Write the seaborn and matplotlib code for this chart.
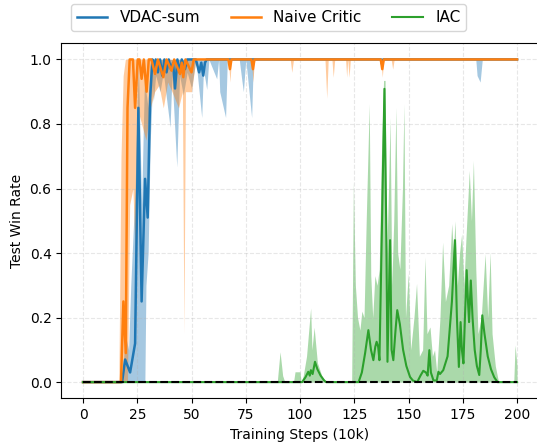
import numpy as np
import matplotlib.pyplot as plt
import seaborn as sns

# VDAC-sum (mean line key points)
vdac_x = [0, 18, 19.4, 21.7, 24, 25.5, 27, 28.6, 29.8, 30.9, 32, 32.4, 33.5, 34.5, 35.5, 36.5, 37.5,
          38.5, 39.5, 40.5, 41.5, 42.4, 43.5, 44.5, 45.5, 47, 48, 52, 53.5, 54.5, 55.4, 56.2, 57,
          137.3, 137.8, 138.3, 200]
vdac_y = [0, 0, 0.07, 0.03, 0.12, 0.85, 0.25, 0.63, 0.51, 0.88, 1.0, 0.97, 1.0, 0.96, 1.0, 0.95, 1.0,
          0.96, 1.0, 0.97, 0.99, 0.91, 1.0, 0.96, 1.0, 0.97, 1.0, 1.0, 0.96, 0.99, 0.95, 0.99, 1.0,
          1.0, 0.985, 1.0, 1.0]
# VDAC-sum band
vdac_bx = [0, 18, 19.4, 21, 22, 24, 25.5, 27, 28.5, 29, 30, 31, 32, 32.4, 33.5, 35.5, 37, 40.1, 41,
           43.2, 44.5, 46.2, 48, 50, 52, 54.7, 55.5, 57, 58, 61.6, 62.5, 63, 65.7, 66.5, 72, 73.1,
           73.9, 75, 77.7, 78.5, 137, 137.8, 138.5, 181, 181.6, 183, 184, 200]
vdac_lo = [0, 0, 0, 0, 0, 0, 0, 0, 0, 0.3, 0.4, 0.75, 0.92, 0.87, 0.95, 0.9, 0.96, 0.79, 0.95,
           0.667, 0.95, 0.89, 0.96, 0.91, 1.0, 0.82, 0.97, 0.907, 1.0, 0.94, 1.0, 0.9, 0.82, 1.0, 1.0, 0.94,
           0.9, 1.0, 0.82, 1.0, 1.0, 0.97, 1.0, 1.0, 0.95, 0.93, 1.0, 1.0]
vdac_hi = [0, 0, 0.15, 0.1, 0.3, 0.6, 1.0, 0.55, 1.0, 0.9, 0.85, 1.0, 1.0, 1.0, 1.0, 1.0, 1.0, 1.0, 1.0,
           1.0, 1.0, 1.0, 1.0, 1.0, 1.0, 1.0, 1.0, 1.0, 1.0, 1.0, 1.0, 1.0, 1.0, 1.0, 1.0, 1.0,
           1.0, 1.0, 1.0, 1.0, 1.0, 1.0, 1.0, 1.0, 1.0, 1.0, 1.0, 1.0]

# Naive Critic
naive_x = [0, 17.5, 18.6, 19.7, 20.5, 21.5, 23, 24, 25.2, 26, 27, 28, 29.3, 30.3, 31.5, 33.2, 34.5,
           37, 38.5, 40.8, 42, 44.7, 45.5, 46.2, 47.2, 50, 51, 67, 67.7, 68.4, 77.6, 78.3, 79,
           137.2, 137.9, 138.6, 200]
naive_y = [0, 0, 0.25, 0.09, 0.85, 1.0, 1.0, 0.85, 1.0, 1.0, 0.94, 1.0, 0.9, 1.0, 1.0, 0.955, 1.0,
           0.945, 1.0, 0.965, 1.0, 0.955, 0.99, 0.945, 1.0, 0.96, 1.0, 1.0, 0.97, 1.0, 1.0, 0.97, 1.0,
           1.0, 0.97, 1.0, 1.0]
naive_bx = [0, 16.5, 17.5, 18.5, 19.5, 20.5, 21.5, 23, 24, 25, 27, 29, 31, 33, 35, 37, 39, 41, 44,
            45.8, 46.5, 47.2, 48, 50, 52, 67, 67.7, 68.4, 77.6, 78.3, 79, 95.5, 96.2, 97, 111.5,
            112.3, 113, 114.7, 115.3, 116, 121, 121.5, 122, 122.6, 123.2, 137.2, 137.9, 138.6,
            142, 142.7, 143.4, 200]
naive_lo = [0, 0, 0, 0, 0, 0, 0.55, 0.6, 0.4, 0.85, 0.8, 0.75, 0.85, 0.9, 0.92, 0.85, 0.93, 0.9, 0.85,
            0.9, 0.15, 0.9, 0.9, 0.9, 1.0, 1.0, 0.93, 1.0, 1.0, 0.93, 1.0, 1.0, 0.96, 1.0, 1.0,
            0.88, 1.0, 1.0, 0.945, 1.0, 1.0, 0.945, 1.0, 0.945, 1.0, 1.0, 0.945, 1.0,
            1.0, 0.97, 1.0, 1.0]
naive_hi = [0, 0, 0.7, 0.95, 1.0, 1.0, 1.0, 1.0, 1.0, 1.0, 1.0, 1.0, 1.0, 1.0, 1.0, 1.0, 1.0, 1.0, 1.0,
            1.0, 1.0, 1.0, 1.0, 1.0, 1.0, 1.0, 1.0, 1.0, 1.0, 1.0, 1.0, 1.0, 1.0, 1.0, 1.0,
            1.0, 1.0, 1.0, 1.0, 1.0, 1.0, 1.0, 1.0, 1.0, 1.0, 1.0, 1.0, 1.0,
            1.0, 1.0, 1.0, 1.0]

# IAC
iac_x = [0, 101, 102.5, 103.8, 104.5, 105, 105.8, 106.9, 108, 109.5, 111, 112, 127, 128.5, 130,
         131.5, 132.7, 133.8, 134.7, 135.3, 136, 136.6, 137.8, 138.9, 139.7, 140.3, 141.5, 142.2,
         143, 144, 144.8, 146, 147.5, 149, 150.7, 152, 154, 155.5, 156.8, 158, 158.8, 159.6, 160.3,
         161.5, 163, 163.8, 164.5, 166, 168, 170, 171.4, 172.3, 173.2, 174, 174.6, 175.3, 176,
         176.8, 177.4, 177.9, 178.7, 179.5, 180.5, 181.5, 182.6, 183.3, 184, 185, 186.5, 188,
         189.5, 191, 200]
iac_y = [0, 0, 0.015, 0.032, 0.02, 0.037, 0.025, 0.063, 0.04, 0.02, 0.006, 0, 0, 0.03, 0.09,
         0.161, 0.1, 0.068, 0.11, 0.125, 0.11, 0.068, 0.5, 0.909, 0.5, 0.063, 0.44, 0.1,
         0.068, 0.16, 0.223, 0.18, 0.1, 0.05, 0.016, 0.005, 0, 0.02, 0.035, 0.03, 0.02, 0.099, 0.03,
         0.005, 0.005, 0.032, 0.025, 0.037, 0.08, 0.25, 0.44, 0.2, 0.047, 0.186, 0.1, 0.058, 0.2,
         0.347, 0.25, 0.186, 0.315, 0.2, 0.1, 0.05, 0.022, 0.1, 0.207, 0.15, 0.08, 0.04,
         0.015, 0, 0]
iac_bx = [0, 89.5, 90.8, 92, 93, 97, 97.7, 100, 100.5, 101.5, 103, 104.9, 105.5, 106.5, 108, 110,
          112, 123.8, 124.6, 125.5, 126.5, 127.6, 128.5, 129.5, 130.5, 131.9, 132.6, 133.5, 134.5,
          135.5, 136.5, 137.5, 138.5, 139.2, 140, 140.8, 141.5, 142.3, 143.2, 144.2, 145, 146,
          147.2, 147.9, 148.6, 149.9, 151, 152.5, 153.7, 155, 156.5, 157.6, 158.5, 159.9, 161,
          162, 163, 164.5, 165.7, 167, 168.5, 169.9, 170.7, 171.4, 172.5, 173.5, 174.5, 175.5,
          176.5, 178, 179, 179.9, 181, 182, 183.5, 185.3, 186.5, 187.6, 188.5, 190, 191.5, 198.5,
          199.1, 200]
iac_hi = [0, 0, 0.094, 0.02, 0, 0, 0.032, 0.032, 0, 0.02, 0.08, 0.23, 0.1, 0.17, 0.06, 0.02,
          0, 0, 0.62, 0.3, 0.2, 0.161, 0.22, 0.2, 0.5, 0.863, 0.33, 0.2, 0.33,
          0.3, 0.35, 0.7, 0.935, 0.935, 0.4, 0.6, 0.82, 0.3, 0.5, 0.852, 0.4, 0.35,
          0.6, 0.863, 0.2, 0.337, 0.1, 0.2, 0.306, 0.08, 0.1, 0.388, 0.15, 0.171, 0.08,
          0.1, 0.03, 0.2, 0.434, 0.25, 0.3, 0.491, 0.4, 0.5, 0.3, 0.4, 0.46, 0.3,
          0.45, 0.656, 0.5, 0.687, 0.35, 0.15, 0.2, 0.398, 0.2, 0.403, 0.15, 0.05, 0, 0,
          0.115, 0.05]

steps = [0, 200]
zero_line = [0, 0]

fig = plt.figure(figsize=(5.37, 4.42), dpi=100)
ax = fig.add_axes([0.1142, 0.099, 0.889, 0.803])

colors = sns.color_palette("tab10")

ax.fill_between(vdac_bx, vdac_lo, vdac_hi, color=colors[0], alpha=0.4, linewidth=0)
sns.lineplot(x=vdac_x, y=vdac_y, ax=ax, color=colors[0], linewidth=1.8, label="VDAC-sum")
ax.fill_between(naive_bx, naive_lo, naive_hi, color=colors[1], alpha=0.4, linewidth=0)
sns.lineplot(x=naive_x, y=naive_y, ax=ax, color=colors[1], linewidth=1.8, label="Naive Critic")
ax.fill_between(iac_bx, [0] * len(iac_bx), iac_hi, color=colors[2], alpha=0.4, linewidth=0)
sns.lineplot(x=iac_x, y=iac_y, ax=ax, color=colors[2], linewidth=1.5, label="IAC")
ax.plot(steps, zero_line, "k--", linewidth=1.5, zorder=5)

ax.set_xlim(-10, 210)
ax.set_ylim(-0.05, 1.05)
ax.set_xticks([0, 25, 50, 75, 100, 125, 150, 175, 200])
ax.set_yticks([0.0, 0.2, 0.4, 0.6, 0.8, 1.0])
ax.grid(True, linestyle="--", alpha=0.3)
ax.set_xlabel("Training Steps (10k)")
ax.set_ylabel("Test Win Rate")

handles, labels = ax.get_legend_handles_labels()
ax.get_legend().remove()
fig.legend(handles, labels, loc="upper center", ncol=3, fontsize=11,
           bbox_to_anchor=(0.5, 1.008))

fig.savefig("out.png", dpi=100)
